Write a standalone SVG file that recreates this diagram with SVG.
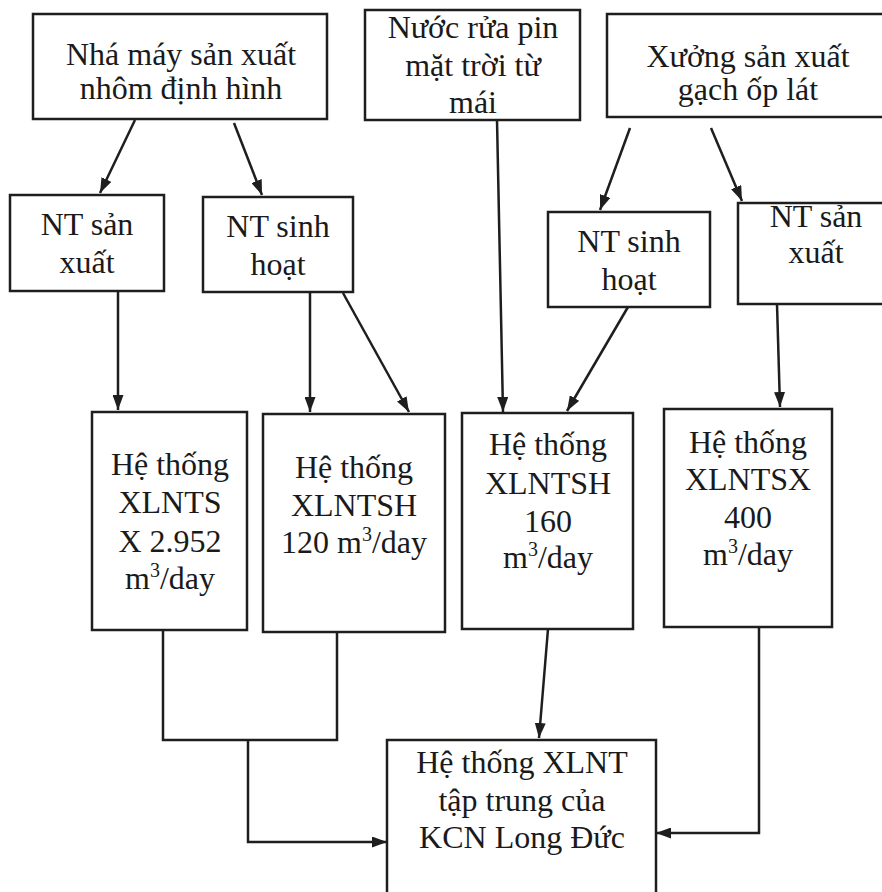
<svg xmlns="http://www.w3.org/2000/svg" width="882" height="892" viewBox="0 0 882 892">
<defs>
<style>
.box{fill:#fff;stroke:#1e1e1e;stroke-width:2.5}
.t{font-family:"Liberation Serif","Times New Roman",serif;font-size:32px;fill:#1a1a1a;text-anchor:middle}
.sup{font-size:20px}
.c{fill:none;stroke:#1e1e1e;stroke-width:2.5}
</style>
<marker id="ah" markerWidth="15" markerHeight="11" refX="15" refY="5.5" orient="auto" markerUnits="userSpaceOnUse"><path d="M0,0 L15,5.5 L0,11 z" fill="#1e1e1e"/></marker>
</defs>
<rect width="882" height="892" fill="#fff"/>
<g id="connectors">
<line class="c" x1="135" y1="120" x2="100" y2="193" marker-end="url(#ah)"/>
<line class="c" x1="234" y1="123" x2="262" y2="195" marker-end="url(#ah)"/>
<line class="c" x1="497" y1="120" x2="503" y2="412" marker-end="url(#ah)"/>
<line class="c" x1="630" y1="128" x2="600" y2="210" marker-end="url(#ah)"/>
<line class="c" x1="711" y1="128" x2="742" y2="201" marker-end="url(#ah)"/>
<line class="c" x1="118" y1="292" x2="118" y2="410" marker-end="url(#ah)"/>
<line class="c" x1="310" y1="293" x2="310" y2="412" marker-end="url(#ah)"/>
<line class="c" x1="343" y1="293" x2="409" y2="412" marker-end="url(#ah)"/>
<line class="c" x1="628" y1="307" x2="567" y2="411" marker-end="url(#ah)"/>
<line class="c" x1="777" y1="304" x2="780" y2="407" marker-end="url(#ah)"/>
<polyline class="c" points="163,630 163,740 337,740 337,632"/>
<polyline class="c" points="248,740 248,842 387,842" marker-end="url(#ah)"/>
<line class="c" x1="548" y1="629" x2="539" y2="738" marker-end="url(#ah)"/>
<polyline class="c" points="759,627 759,833 656,833" marker-end="url(#ah)"/>
</g>
<g id="n1"><rect class="box" x="33" y="14" width="294" height="105"/><text class="t" x="181" y="65">Nhá máy sản xuất</text><text class="t" x="181" y="99">nhôm định hình</text></g>
<g id="n2"><rect class="box" x="365" y="10" width="215" height="110"/><text class="t" x="473" y="38">Nước rửa pin</text><text class="t" x="473" y="76">mặt trời từ</text><text class="t" x="473" y="113">mái</text></g>
<g id="n3"><rect class="box" x="607" y="14" width="281" height="103"/><text class="t" x="748" y="67">Xưởng sản xuất</text><text class="t" x="748" y="100">gạch ốp lát</text></g>
<g id="n4"><rect class="box" x="10" y="195" width="154" height="96"/><text class="t" x="87" y="235">NT sản</text><text class="t" x="87" y="273">xuất</text></g>
<g id="n5"><rect class="box" x="203" y="197" width="150" height="95"/><text class="t" x="278" y="237">NT sinh</text><text class="t" x="278" y="275">hoạt</text></g>
<g id="n6"><rect class="box" x="548" y="212" width="162" height="95"/><text class="t" x="629" y="252">NT sinh</text><text class="t" x="629" y="290">hoạt</text></g>
<g id="n7"><rect class="box" x="738" y="203" width="152" height="101"/><text class="t" x="816" y="227">NT sản</text><text class="t" x="816" y="263">xuất</text></g>
<g id="n8"><rect class="box" x="92" y="412" width="155" height="218"/><text class="t" x="170" y="475">Hệ thống</text><text class="t" x="170" y="513">XLNTS</text><text class="t" x="170" y="552">X 2.952</text><text class="t" x="170" y="589">m<tspan class="sup" dy="-12">3</tspan><tspan dy="12">/day</tspan></text></g>
<g id="n9"><rect class="box" x="263" y="414" width="182" height="218"/><text class="t" x="354" y="478">Hệ thống</text><text class="t" x="354" y="516">XLNTSH</text><text class="t" x="354" y="553">120 m<tspan class="sup" dy="-12">3</tspan><tspan dy="12">/day</tspan></text></g>
<g id="n10"><rect class="box" x="462" y="413" width="171" height="216"/><text class="t" x="548" y="455">Hệ thống</text><text class="t" x="548" y="494">XLNTSH</text><text class="t" x="548" y="532">160</text><text class="t" x="548" y="568">m<tspan class="sup" dy="-12">3</tspan><tspan dy="12">/day</tspan></text></g>
<g id="n11"><rect class="box" x="664" y="409" width="168" height="218"/><text class="t" x="748" y="453">Hệ thống</text><text class="t" x="748" y="490">XLNTSX</text><text class="t" x="748" y="528">400</text><text class="t" x="748" y="565">m<tspan class="sup" dy="-12">3</tspan><tspan dy="12">/day</tspan></text></g>
<g id="n12"><rect class="box" x="387" y="740" width="269" height="170"/><text class="t" x="522" y="773">Hệ thống XLNT</text><text class="t" x="522" y="811">tập trung của</text><text class="t" x="522" y="848">KCN Long Đức</text></g>
</svg>
